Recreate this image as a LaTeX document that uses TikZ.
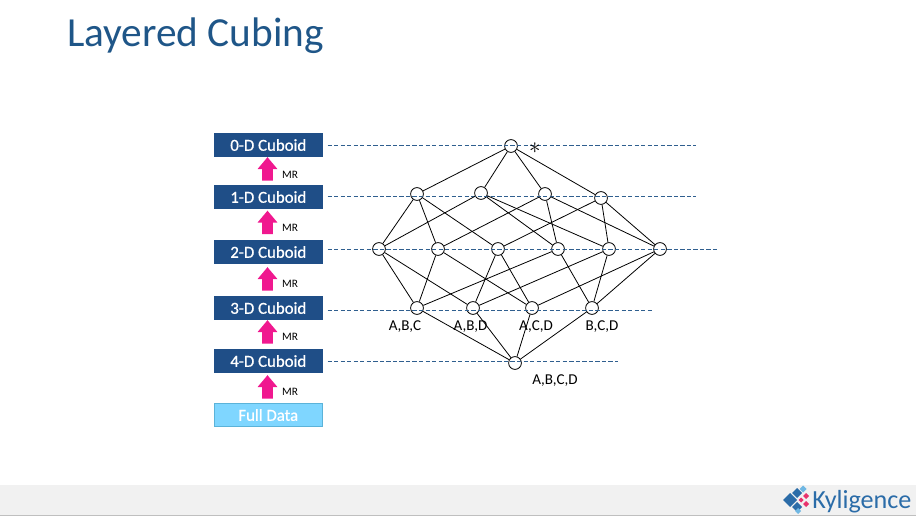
\documentclass[tikz,border=0pt]{standalone}
\usepackage{fontspec}
\setmainfont{Carlito}
\newfontfamily\boxfont[FakeBold=0.8]{Carlito}
\usetikzlibrary{positioning,arrows.meta,shapes.arrows}
\definecolor{titlecolor}{HTML}{1F5688}
\definecolor{cuboidcolor}{HTML}{1F4E87}
\definecolor{datacolor}{HTML}{7FD6FF}
\definecolor{databorder}{HTML}{5BB3D9}
\definecolor{mrcolor}{HTML}{F0188F}
\definecolor{levelcolor}{HTML}{2F5F8F}
\definecolor{footcolor}{HTML}{F1F1F1}
\definecolor{logoblue}{HTML}{2B6CA8}
\definecolor{logolight}{HTML}{6FB7E3}
\definecolor{logopink}{HTML}{E8336D}
\tikzset{
    cuboid/.style={draw=cuboidcolor, fill=cuboidcolor, text=white, font=\boxfont\fontsize{12.6}{14}\selectfont,
        minimum width=81pt, minimum height=17pt, inner sep=0pt},
    fulldata/.style={cuboid, draw=databorder, fill=datacolor},
    mrarrow/.style={single arrow, fill=mrcolor, rotate=90, minimum height=17.5pt,
        single arrow head extend=3.5pt, single arrow tip angle=80, inner sep=3.75pt},
    mrlabel/.style={font=\fontsize{8.5}{9}\selectfont, inner sep=0pt},
    lattice/.style={circle, draw, line width=0.6pt, minimum size=9.6pt, inner sep=0pt},
    setlabel/.style={font=\fontsize{11.3}{13}\selectfont, inner sep=0pt},
    levelline/.style={color=levelcolor, line width=0.5pt, dash pattern=on 3.2pt off 1.7pt, shorten <=3.7pt},
    edge/.style={line width=0.6pt}
}
\begin{document}
\begin{tikzpicture}[x=0.75pt, y=-0.75pt]
    \useasboundingbox (0,0) rectangle (916,516);

    % Footer and title
    \fill[footcolor] (0,485) rectangle (916,515);
    \draw[color=black!25, line width=0.5pt] (0,515.5) -- (916,515.5);
    \node[anchor=west, font=\fontsize{31}{34}\selectfont, text=titlecolor, inner sep=0pt] (title) at (67,36) {Layered Cubing};

    % Cuboid boxes
    \foreach \name/\y/\txt in {c0/145/0-D Cuboid, c1/197/1-D Cuboid, c2/252/2-D Cuboid, c3/308/3-D Cuboid, c4/361/4-D Cuboid} {
        \node[cuboid] (\name) at (268.3,\y) {\txt};
    }
    \node[fulldata] (full) at (268.3,415) {Full Data};

    % MR arrows
    \foreach \name/\y/\ly in {m0/172/175, m1/225.5/228, m2/282/284, m3/335/337, m4/390/392} {
        \node[mrarrow] (\name) at (267.5,\y) {};
        \node[mrlabel] (\name l) at (290,\ly) {MR};
    }

    % Lattice nodes
    \foreach \name/\x/\y in {top/511/146,
        nA/417/194, nB/481/193, nC/545/194, nD/601/198,
        nAB/379/249, nAC/438/249, nAD/498/249, nBC/558/249, nBD/609/249, nCD/660/249,
        nABC/417/308, nABD/473/308, nACD/532/308, nBCD/592/308,
        nABCD/515/363} {
        \node[lattice] (\name) at (\x,\y) {};
    }

    % Level lines
    \foreach \name/\src/\x/\y in {e0/c0/696/145.5, e1/c1/696/196, e2/c2/717/249, e3/c3/653/310.5, e4/c4/618/361.5} {
        \coordinate (\name) at (\x,\y);
        \draw[levelline] (\src.east |- \name) -- (\name);
    }

    % Lattice edges
    \foreach \a/\b in {top/nA, top/nB, top/nC, top/nD,
        nA/nAB, nA/nAC, nA/nAD, nB/nAB, nB/nBC, nB/nBD,
        nC/nAC, nC/nBC, nC/nCD, nD/nAD, nD/nBD, nD/nCD,
        nAB/nABC, nAC/nABC, nBC/nABC, nAB/nABD, nAD/nABD, nBD/nABD,
        nAC/nACD, nAD/nACD, nCD/nACD, nBC/nBCD, nBD/nBCD, nCD/nBCD,
        nABC/nABCD, nABD/nABCD, nACD/nABCD, nBCD/nABCD} {
        \draw[edge] (\a) -- (\b);
    }

    % Labels
    \node[font=\fontsize{16}{16}\selectfont, inner sep=0pt] (star) at (535,148) {$\ast$};
    \node[setlabel] (lABC) at (405,326.5) {A,B,C};
    \node[setlabel] (lABD) at (470.5,326.5) {A,B,D};
    \node[setlabel] (lACD) at (536,326.5) {A,C,D};
    \node[setlabel] (lBCD) at (602,326.5) {B,C,D};
    \node[setlabel] (lABCD) at (555,380.5) {A,B,C,D};

    % Logo
    \foreach \x/\y/\r/\col in {790/500/7/logoblue, 797/493/5/logoblue, 797/507/5/logoblue,
        803/489/3.5/logolight, 798/511/3/logolight, 806/496/3/logopink, 806/504/3/logopink, 801/500/2.5/logopink} {
        \fill[\col] (\x-\r,\y) -- (\x,\y-\r) -- (\x+\r,\y) -- (\x,\y+\r) -- cycle;
    }
    \node[anchor=base west, font=\fontsize{19.6}{22}\selectfont, text=logoblue, inner sep=0pt] (logo) at (812,508) {Kyligence};
\end{tikzpicture}
\end{document}
